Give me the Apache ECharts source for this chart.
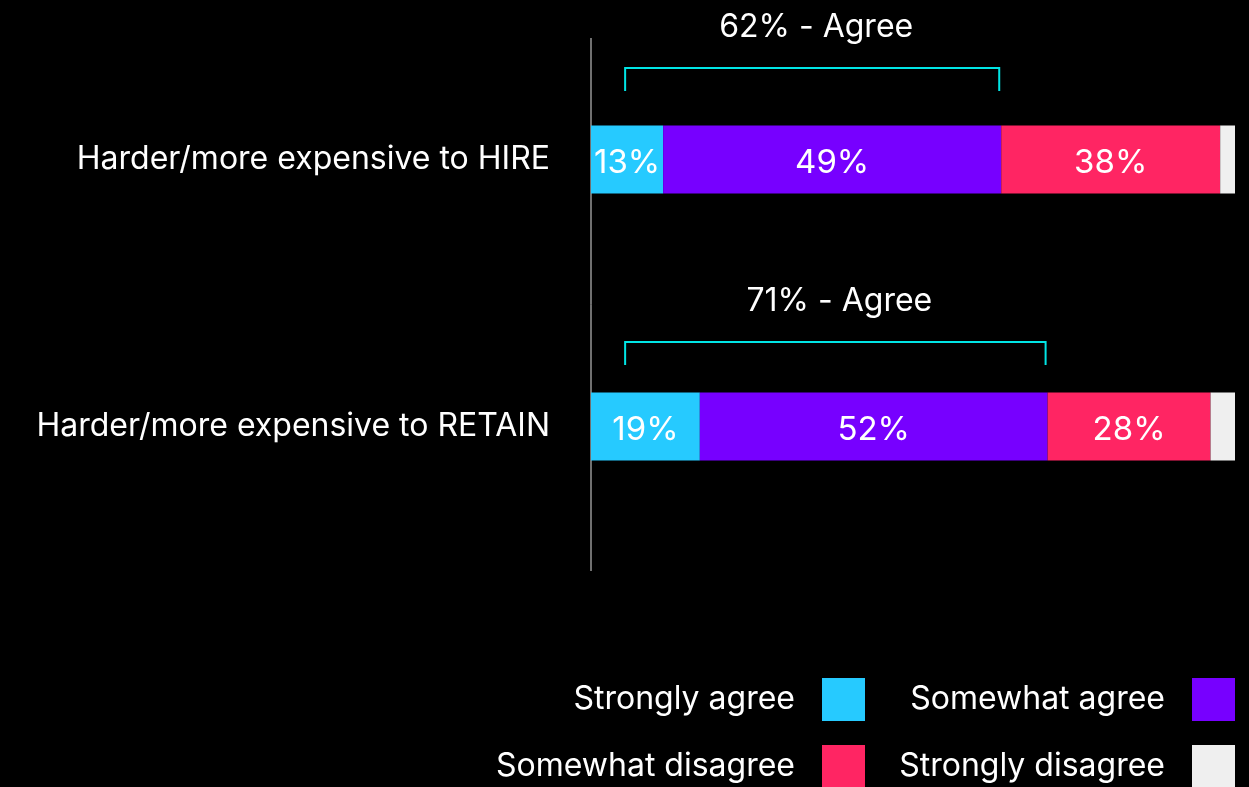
<!DOCTYPE html>
<html><head><meta charset="utf-8">
<script src="https://cdn.jsdelivr.net/npm/echarts@6/dist/echarts.min.js"></script>
<style>html,body{margin:0;padding:0;background:#000;}#c{width:1249px;height:787px;}</style>
</head><body><div id="c"></div>
<script>
const categories = ['Harder/more expensive to HIRE', 'Harder/more expensive to RETAIN'];
const seriesNames = ['Strongly agree', 'Somewhat agree', 'Somewhat disagree', 'Strongly disagree'];
// segment lengths as drawn (share of full bar, %)
const stronglyAgree = [11.2, 16.9];
const somewhatAgree = [52.5, 54.0];
const somewhatDisagree = [34.0, 25.3];
const stronglyDisagree = [2.3, 3.8];
// labels printed on the segments
const stronglyAgreeLabels = ['13%', '19%'];
const somewhatAgreeLabels = ['49%', '52%'];
const somewhatDisagreeLabels = ['38%', '28%'];
const stronglyDisagreeLabels = ['', ''];
// "Agree" bracket annotations
const agreeTotalLabels = ['62% - Agree', '71% - Agree'];
const bracketStart = [5.3, 5.3];

const FONT = 'Inter';
const colors = ['#26CAFF', '#7700FF', '#FF2563', '#EFEFEF'];
const valueSets = [stronglyAgree, somewhatAgree, somewhatDisagree, stronglyDisagree];
const labelSets = [stronglyAgreeLabels, somewhatAgreeLabels, somewhatDisagreeLabels, stronglyDisagreeLabels];
const bracketRise = [{top: 91.5, bottom: 68.5}, {top: 84.5, bottom: 61.5}];

const chart = echarts.init(document.getElementById('c'), null, {renderer: 'canvas'});

const barSeries = seriesNames.map((name, s) => ({
  name: name,
  type: 'bar',
  stack: 'total',
  barWidth: 68,
  itemStyle: {color: colors[s]},
  label: {
    show: true,
    position: 'inside',
    color: '#fff',
    fontSize: 33,
    fontFamily: FONT,
    offset: [0, 4],
    formatter: p => labelSets[s][p.dataIndex]
  },
  emphasis: {disabled: true},
  data: valueSets[s]
}));

const bracketSeries = {
  type: 'custom',
  name: 'brackets',
  z: 5,
  silent: true,
  encode: {x: [0, 1], y: 2},
  renderItem: function (params, api) {
    const cat = api.value(2);
    const p1 = api.coord([api.value(0), cat]);
    const p2 = api.coord([api.value(1), cat]);
    const r = bracketRise[params.dataIndex];
    const top = p1[1] - r.top, bot = p1[1] - r.bottom;
    const x1 = p1[0], x2 = p2[0] - 2;
    return {
      type: 'group',
      children: [
        {type: 'polyline', shape: {points: [[x1, bot], [x1, top], [x2, top], [x2, bot]]},
         style: {stroke: '#00E5E5', lineWidth: 2, fill: null}},
        {type: 'text', style: {text: agreeTotalLabels[params.dataIndex], x: (x1 + x2) / 2 + 4, y: top - 41,
          align: 'center', verticalAlign: 'middle', fill: '#fff', font: '32px ' + FONT}}
      ]
    };
  },
  data: categories.map((c, i) => [bracketStart[i], stronglyAgree[i] + somewhatAgree[i], i])
};

const legendPos = [
  {right: 384, top: 678}, {right: 14, top: 678},
  {right: 384, top: 745}, {right: 14, top: 745}
];

chart.setOption({
  backgroundColor: '#000',
  animation: false,
  grid: {left: 591, right: 14, top: 26, bottom: 227},
  xAxis: {type: 'value', min: 0, max: 100, show: false},
  yAxis: {
    type: 'category', inverse: true, data: categories,
    axisLine: {show: false}, axisTick: {show: false},
    axisLabel: {color: '#fff', fontSize: 32, fontFamily: FONT, margin: 41, padding: [10, 0, 0, 0]}
  },
  legend: seriesNames.map((n, i) => ({
    data: [n], right: legendPos[i].right, top: legendPos[i].top,
    itemWidth: 43, itemHeight: 43, align: 'right', icon: 'rect', padding: 0,
    selectedMode: false,
    textStyle: {color: '#fff', fontSize: 32, fontFamily: FONT, padding: [0, 22, 6, 0]}
  })),
  graphic: [{
    type: 'line', shape: {x1: 591, y1: 38, x2: 591, y2: 571},
    style: {stroke: '#e0e0e0', lineWidth: 1}
  }],
  series: barSeries.concat([bracketSeries])
});
</script></body></html>
